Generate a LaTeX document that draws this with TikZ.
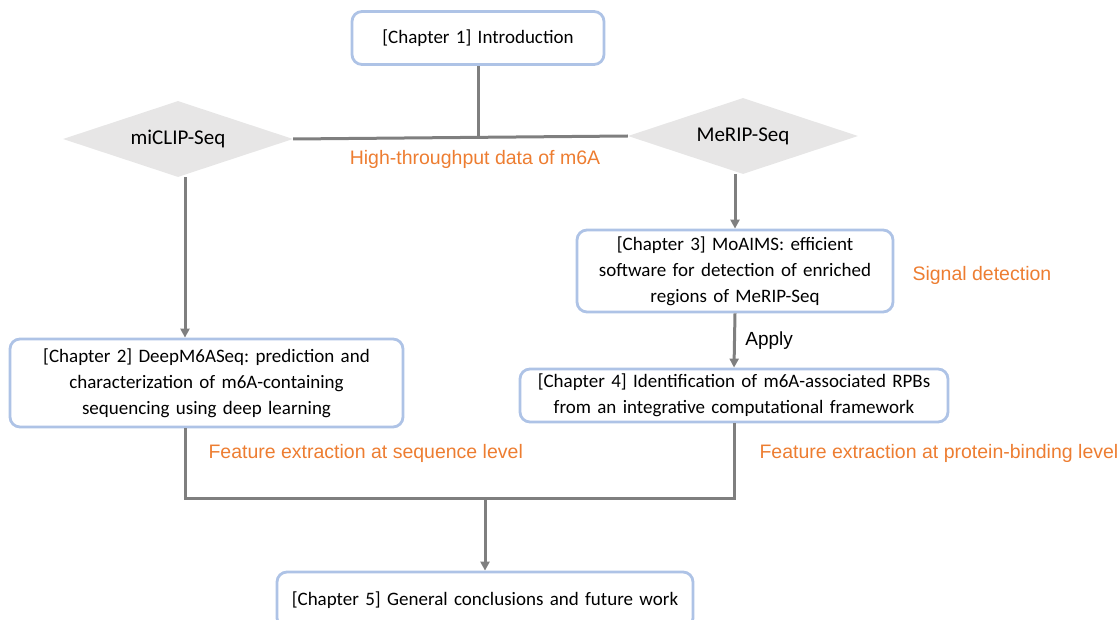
\documentclass[tikz,border=0pt]{standalone}
\usepackage{fontspec}
\setmainfont{Carlito}
\newfontfamily\notefont{Liberation Sans}
\usepackage{tikz}
\usetikzlibrary{shapes.geometric,arrows.meta,positioning,calc}
\definecolor{boxBlue}{RGB}{174,195,230}
\definecolor{noteOrange}{RGB}{237,125,49}
\definecolor{lineGray}{RGB}{127,127,127}
\definecolor{diamondGray}{RGB}{231,230,230}
\frenchspacing
\tikzset{
  chapbox/.style={draw=boxBlue, line width=2.8pt, rounded corners=10pt, fill=white,
    align=center, inner sep=0pt, font=\fontsize{19}{26}\selectfont},
  seqdiamond/.style={diamond, aspect=3, fill=diamondGray, inner sep=0pt,
    minimum width=230pt, minimum height=76pt, font=\fontsize{21}{24}\selectfont},
  note/.style={text=noteOrange, font=\notefont\fontsize{19.5}{22}\selectfont},
  link/.style={draw=lineGray, line width=3pt},
  arr/.style={link, -{Triangle[length=9pt,width=9pt]}}
}
\begin{document}
\begin{tikzpicture}[x=1pt, y=-1pt]
        \useasboundingbox (0,0) rectangle (1119,620);
        % Chapter boxes
        \node[chapbox, text width=252pt, minimum height=53pt] (ch1) at (478,38)
          {[Chapter 1] Introduction};
        \node[chapbox, text width=393pt, minimum height=88pt] (ch2) at (206.5,383)
          {[Chapter 2] DeepM6ASeq: prediction and\\characterization of m6A-containing\\sequencing using deep learning};
        \node[chapbox, text width=316pt, minimum height=82pt] (ch3) at (735,271)
          {[Chapter 3] MoAIMS: efficient\\software for detection of enriched\\regions of MeRIP-Seq};
        \node[chapbox, text width=428pt, minimum height=53pt] (ch4) at (734,395.5)
          {[Chapter 4] Identification of m6A-associated RPBs\\from an integrative computational framework};
        \node[chapbox, text width=416pt, minimum height=56pt] (ch5) at (485,600)
          {[Chapter 5] General conclusions and future work};
        % Data sources
        \node[seqdiamond] (miclip) at (178,139) {miCLIP-Seq};
        \node[seqdiamond] (merip) at (743,136) {MeRIP-Seq};
        % Helper points
        \coordinate (lx) at (185,0);
        \coordinate (join) at (485,498);
        % Connectors
        \draw[link] (ch1.south) -- (ch1.south |- miclip.east);
        \draw[link] (miclip.east) -- (merip.west);
        \draw[arr] (miclip.south -| lx) -- (ch2.north -| lx);
        \draw[arr] (ch3.north |- merip.south) -- (ch3.north);
        \draw[arr] (ch3.south) -- (ch4.north)
          node[midway, right=6pt, font=\notefont\fontsize{19}{22}\selectfont] (apply) {Apply};
        \draw[link] (ch2.south -| lx) |- (ch4.south |- join) -- (ch4.south);
        \draw[arr] (join) -- (ch5.north);
        % Stage labels
        \node[note] (hdata) at (475,159) {High-throughput data of m6A};
        \node[note, anchor=west] (signal) at (909,275) {Signal detection};
        \node[note, anchor=west] (featseq) at (205,453) {Feature extraction at sequence level};
        \node[note, anchor=west] (featprot) at (756,453) {Feature extraction at protein-binding level};
      \end{tikzpicture}
\end{document}
